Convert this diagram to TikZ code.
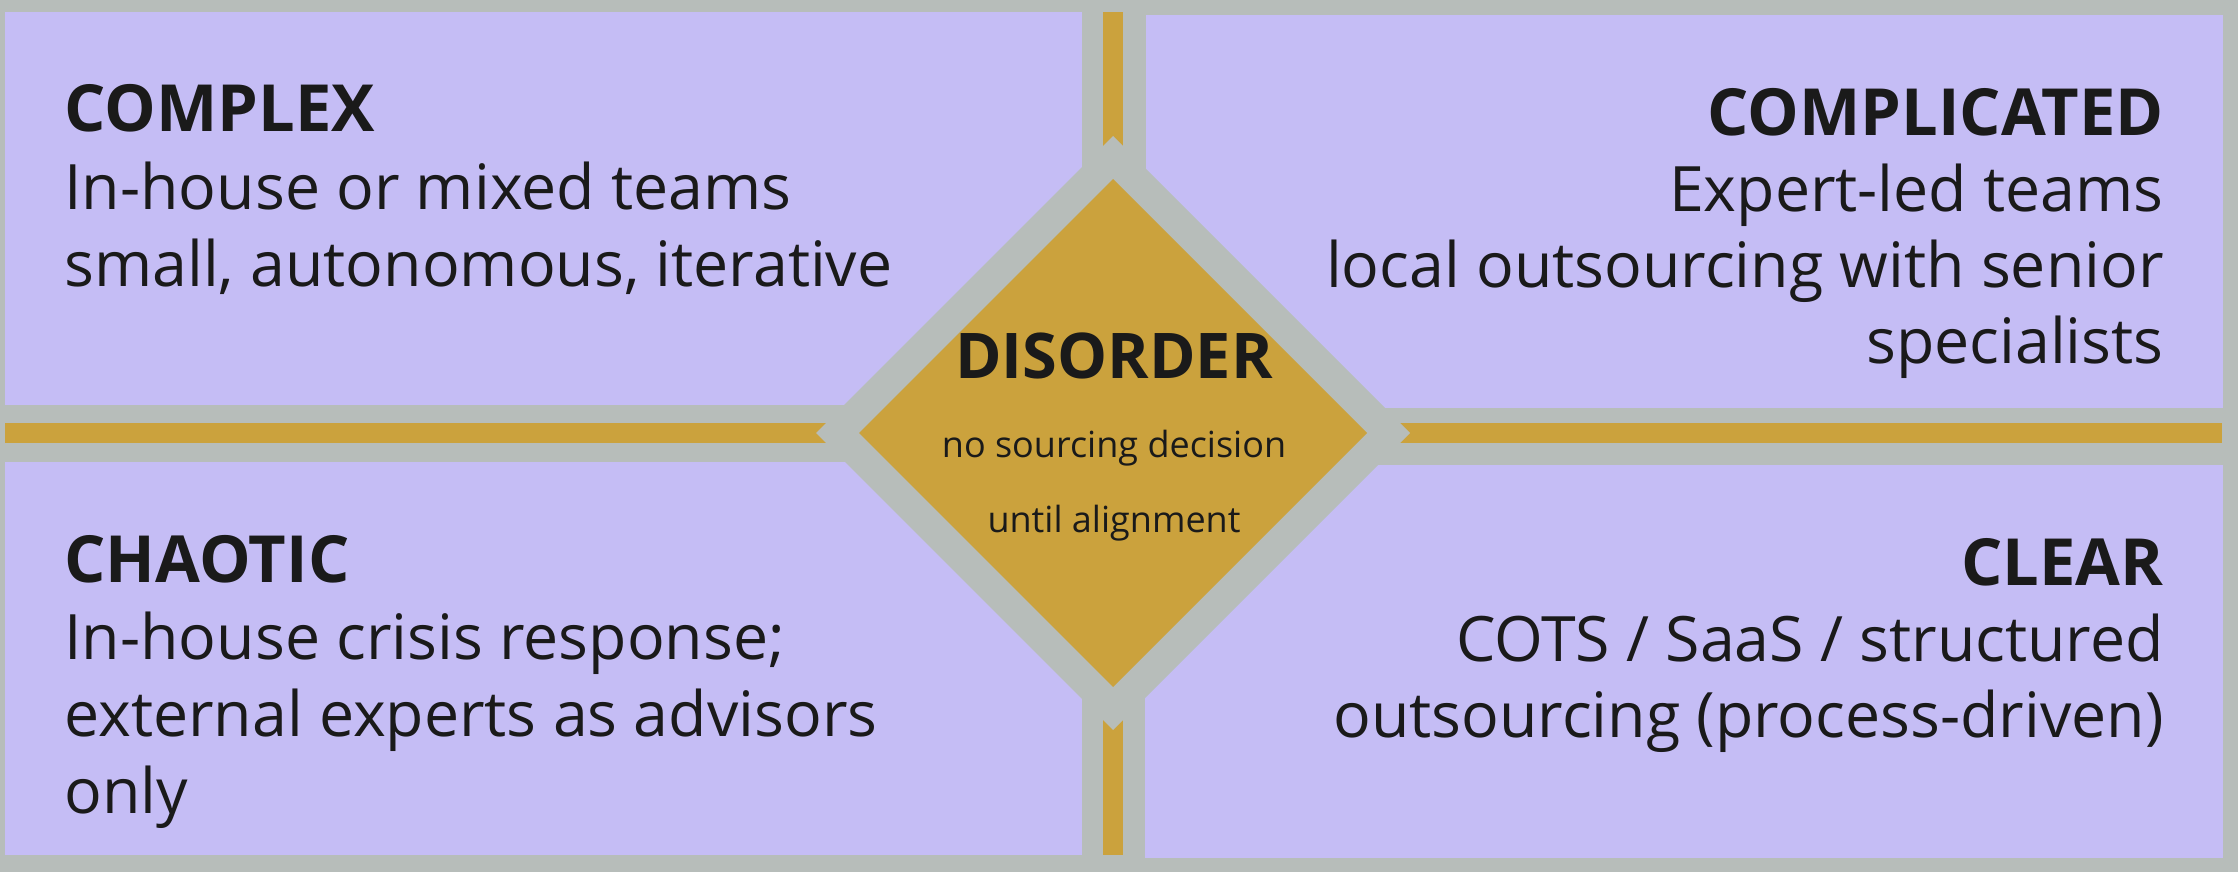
\documentclass[tikz,border=0pt]{standalone}
\usepackage{fontspec}
\setmainfont{Open Sans}
\usepackage{xcolor}
\usepackage{tikz}

\definecolor{frame}{HTML}{B7BDBA}
\definecolor{quad}{HTML}{C5BDF5}
\definecolor{ochre}{HTML}{CBA23D}
\definecolor{ink}{HTML}{1A1A1A}

\begin{document}
\begin{tikzpicture}[x=0.5pt, y=-0.5pt,
    head/.style={font=\fontsize{32.5}{36}\selectfont\bfseries, text=ink, inner sep=0pt},
    body/.style={font=\fontsize{31.3}{36}\selectfont, text=ink, inner sep=0pt},
    note/.style={font=\fontsize{18}{20}\selectfont, text=ink, inner sep=0pt}]
  \useasboundingbox (0,0) rectangle (2238,872);
  \fill[frame] (0,0) rectangle (2238,872);
  %% the four domains
  \fill[quad] (5,12) rectangle (1082,405);
  \fill[quad] (1146,15) rectangle (2223,408);
  \fill[quad] (5,462) rectangle (1082,855);
  \fill[quad] (1145,465) rectangle (2223,858);
  %% axes between the domains
  \fill[ochre] (5,423) rectangle (2222,443);
  \fill[ochre] (1103,12) rectangle (1123,855);
  %% disorder in the middle, gray rim over the axes
  \fill[frame] (1113,136) -- (1410,433) -- (1113,730) -- (816,433) -- cycle;
  \fill[ochre] (1113,179) -- (1367,433) -- (1113,687) -- (859,433) -- cycle;
  \node[head, font=\fontsize{31.5}{36}\selectfont\bfseries, anchor=base] (dis-h) at (1114,378) {DISORDER};
  \node[note, anchor=base] (dis-1) at (1114,457) {no sourcing decision};
  \node[note, anchor=base] (dis-2) at (1114,532) {until alignment};
  %% complex (top left)
  \node[head, anchor=base west] (cx-h) at (64,132) {COMPLEX};
  \foreach \t [count=\i] in {In-house or mixed teams, {small, autonomous, iterative}}
    \node[body, anchor=base west] (cx-\i) at (64,132+77*\i) {\t};
  %% complicated (top right)
  \node[head, anchor=base east] (cd-h) at (2164,135) {COMPLICATED};
  \foreach \t [count=\i] in {Expert-led teams, local outsourcing with senior, specialists}
    \node[body, anchor=base east] (cd-\i) at (2164,135+76*\i) {\t};
  %% chaotic (bottom left)
  \node[head, anchor=base west] (ch-h) at (64,582) {CHAOTIC};
  \foreach \t [count=\i] in {In-house crisis response;, external experts as advisors, only}
    \node[body, anchor=base west] (ch-\i) at (64,582+77*\i) {\t};
  %% clear (bottom right)
  \node[head, anchor=base east] (cl-h) at (2164,585) {CLEAR};
  \foreach \t [count=\i] in {COTS / SaaS / structured, outsourcing (process-driven)}
    \node[body, anchor=base east] (cl-\i) at (2164,585+76*\i) {\t};
\end{tikzpicture}
\end{document}
